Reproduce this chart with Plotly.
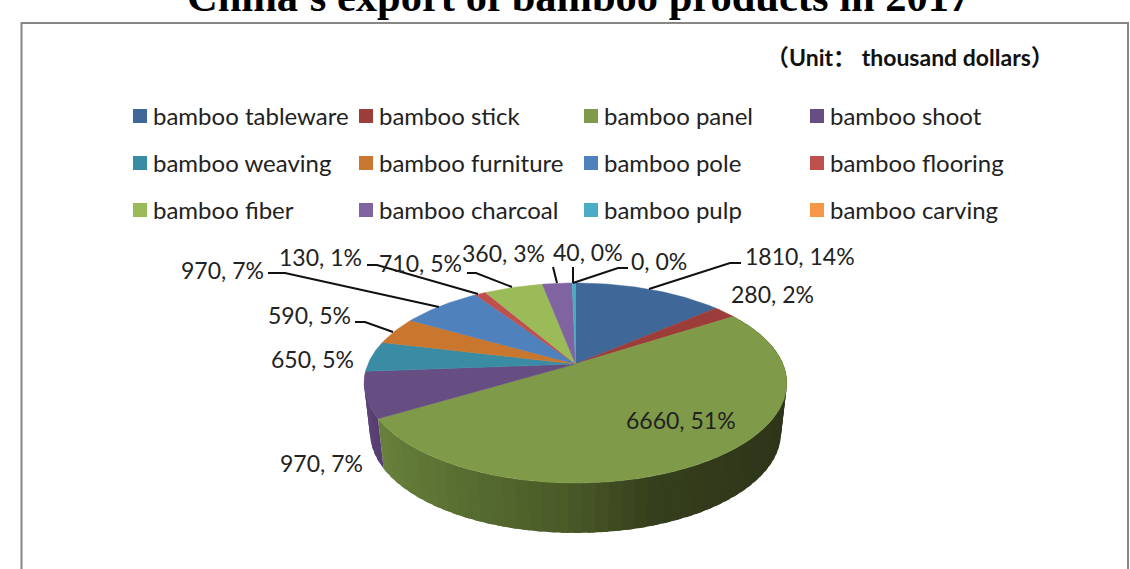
import numpy as np
import plotly.graph_objects as go

TITLE = "China's export of bamboo products in 2017"
UNIT = "（Unit： thousand dollars）"
categories = ["bamboo tableware", "bamboo stick", "bamboo panel", "bamboo shoot",
              "bamboo weaving", "bamboo furniture", "bamboo pole", "bamboo flooring",
              "bamboo fiber", "bamboo charcoal", "bamboo pulp", "bamboo carving"]
values = [1810, 280, 6660, 970, 650, 590, 970, 130, 710, 360, 40, 0]
percents = [14, 2, 51, 7, 5, 5, 7, 1, 5, 3, 0, 0]
colors = ["#3f6797", "#9c3d3a", "#7f9a48", "#674e82", "#3a8ca5", "#c9772f",
          "#4f81bd", "#c0504d", "#9bbb59", "#8064a2", "#4bacc6", "#f79646"]

# label centre (pixels) and leader polyline for each slice
label_pos = [(800, 256), (772, 294), (681, 420), (321, 463), (312, 359), (309, 315),
             (222, 270), (320, 257), (420, 263), (503, 253), (588, 252), (659, 261)]
leaders = [[(741, 263), (730, 263), (649, 289)], None, None, None, None,
           [(355, 322), (365, 322), (393, 332)],
           [(268, 273), (285, 273), (439, 307)],
           [(367, 265), (377, 265), (478, 294)],
           [(467, 273), (476, 273), (512, 287)],
           [(553, 267), (557, 283)],
           [(573, 267), (573, 283)],
           [(628, 268), (618, 268), (573, 283)]]
legend_cols = [133, 359, 584, 810]
legend_rows = [116, 163, 210]

CX, CY, A, B, K = 575.5, 364, 96.4, 207.5, 0.19
SCALE_X, SCALE_Y, DROP_B = 0.972, 1.0, 414.0
total = sum(values)
FONT = "Lato, 'Noto Sans CJK SC', sans-serif"


def top(theta):
    u, v = np.sin(theta), -np.cos(theta)
    d = 1 - K * v
    return CX + B * u / d, CY + A * v / d


def bottom(theta):
    x, y = top(theta)
    return CX + SCALE_X * (x - CX), DROP_B + SCALE_Y * (y - CY)


def hexrgb(h):
    return np.array([int(h[i:i + 2], 16) for i in (1, 3, 5)], float)


def ramp(x, stops):
    xs = [s[0] for s in stops]
    rgb = [np.interp(x, xs, [hexrgb(s[1])[c] for s in stops]) for c in range(3)]
    return "rgb(%d,%d,%d)" % tuple(rgb)


fig = go.Figure()
cum = np.cumsum([0] + values) / total * 2 * np.pi

# side wall: panel shades run from dark on the right to light on the left
side_stops = {
    2: [(378, "#69823c"), (480, "#566c30"), (575, "#4a5a28"), (660, "#363f1d"), (790, "#2e351a")],
    3: [(360, "#5f4779"), (385, "#563d70")],
}
for i in (2, 3):
    start, end = cum[i], cum[i + 1]
    n = max(int((end - start) / np.radians(3)), 1)
    edges = np.linspace(start, end, n + 1)
    step = edges[1] - edges[0]
    for a0 in edges[:-1]:
        # each strip runs on under the following one so no seam shows
        arc = np.linspace(a0, min(a0 + 1.6 * step, end), 4)
        tx, ty = top(arc)
        bx, by = bottom(arc)
        col = ramp((tx[0] + bx[0]) / 2, side_stops[i])
        fig.add_trace(go.Scatter(
            x=np.r_[tx, bx[::-1], tx[0]], y=np.r_[ty, by[::-1], ty[0]],
            mode="lines", fill="toself", fillcolor=col,
            line=dict(color=col, width=0), hoverinfo="skip", showlegend=False))

# top faces
for i, name in enumerate(categories):
    if values[i] == 0:
        continue
    arc = np.linspace(cum[i], cum[i + 1], max(int((cum[i + 1] - cum[i]) * 60), 3))
    tx, ty = top(arc)
    fig.add_trace(go.Scatter(
        x=np.r_[CX, tx, CX], y=np.r_[CY, ty, CY], name=name,
        mode="lines", fill="toself", fillcolor=colors[i],
        line=dict(color=colors[i], width=0.5), hoverinfo="name", showlegend=False))

# leader lines
for path in leaders:
    if path:
        fig.add_trace(go.Scatter(
            x=[p[0] for p in path], y=[p[1] for p in path], mode="lines",
            line=dict(color="#111111", width=2), hoverinfo="skip", showlegend=False))

# legend swatches with names
for i, name in enumerate(categories):
    r, c = divmod(i, 4)
    fig.add_trace(go.Scatter(
        x=[legend_cols[c] + 7], y=[legend_rows[r]], mode="markers",
        marker=dict(symbol="square", size=14, color=colors[i]),
        hoverinfo="skip", showlegend=False))
    fig.add_annotation(x=legend_cols[c] + 18, y=legend_rows[r] - 1, text=name, showarrow=False,
                       xanchor="left", yanchor="middle", font=dict(family=FONT, size=24, color="#222222"))

# data labels
for i in range(len(values)):
    fig.add_annotation(x=label_pos[i][0], y=label_pos[i][1], text=f"{values[i]}, {percents[i]}%",
                       showarrow=False, xanchor="center", yanchor="middle",
                       font=dict(family=FONT, size=23, color="#222222"))

# the reference crops the top of this title at the picture's edge
fig.add_annotation(x=578, xref="x", y=1 + 4 / 569, yref="paper", text=f"<b>{TITLE}</b>", showarrow=False,
                   xanchor="center", yanchor="middle",
                   font=dict(family="Liberation Serif", size=42.5, color="#000000"))
fig.add_annotation(x=910, y=57, text=f"<b>{UNIT}</b>", showarrow=False, xanchor="center", yanchor="middle",
                   font=dict(family=FONT, size=23, color="#111111"))

fig.add_shape(type="rect", x0=21.5, y0=23, x1=1128, y1=600,
              line=dict(color="#868686", width=2), layer="below")

fig.update_layout(
    width=1130, height=569, margin=dict(l=0, r=0, t=0, b=0),
    paper_bgcolor="white", plot_bgcolor="white",
    xaxis=dict(range=[0, 1130], visible=False, fixedrange=True),
    yaxis=dict(range=[569, 0], visible=False, fixedrange=True),
)
fig.write_html("out.html", config={"displayModeBar": False},
               post_script="document.body.style.margin='0';document.body.style.overflow='hidden';")
